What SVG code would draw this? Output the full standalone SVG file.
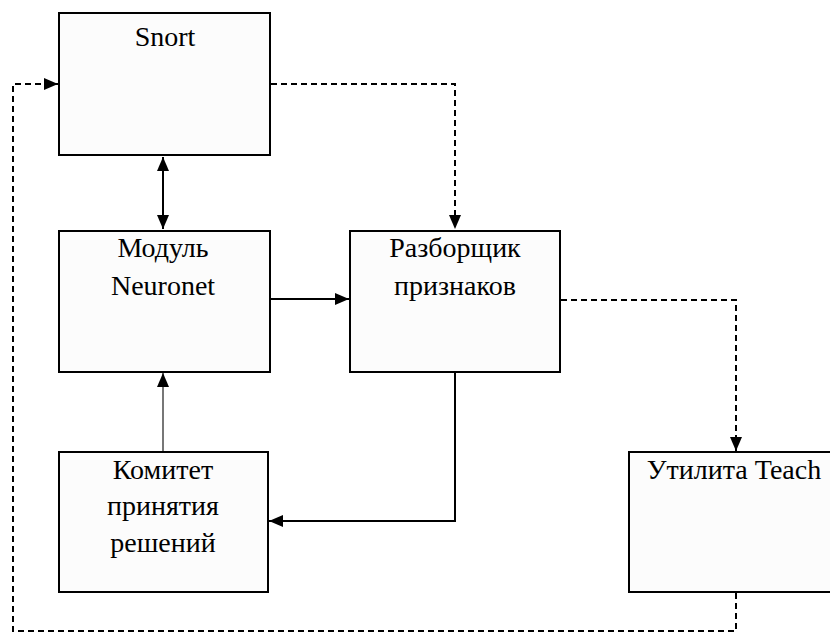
<svg xmlns="http://www.w3.org/2000/svg" width="830" height="633" viewBox="0 0 830 633">
<defs>
<style>
.box{fill:#fcfcfc;stroke:#000;stroke-width:2}
.t{font-family:'Liberation Serif','Times New Roman',serif;font-size:28px;fill:#000;text-anchor:middle}
.c{fill:none;stroke:#000;stroke-width:2}
.d{fill:none;stroke:#000;stroke-width:2;stroke-dasharray:6 4}
</style>
<marker id="ah" viewBox="0 0 14 12" refX="14" refY="6" markerWidth="14" markerHeight="12" markerUnits="userSpaceOnUse" orient="auto-start-reverse">
<path d="M0,0 L14,6 L0,12 Z" fill="#000"/>
</marker>
<marker id="ahg" viewBox="0 0 14 12" refX="14" refY="6" markerWidth="14" markerHeight="12" markerUnits="userSpaceOnUse" orient="auto">
<path d="M0,0 L14,6 L0,12 Z" fill="#000"/>
</marker>
</defs>
<rect width="830" height="633" fill="#fff"/>
<g id="connectors">
<line class="c" x1="163" y1="157" x2="163" y2="229" marker-start="url(#ah)" marker-end="url(#ah)"/>
<line class="c" x1="271" y1="299" x2="349" y2="299" marker-end="url(#ah)"/>
<polyline class="d" points="271,84 455,84 455,229" marker-end="url(#ah)"/>
<polyline class="d" points="561,300 736,300 736,451" marker-end="url(#ah)"/>
<polyline class="c" points="455,373 455,521 269,521" marker-end="url(#ah)"/>
<line x1="163" y1="451" x2="163" y2="373" stroke="#777" stroke-width="2" marker-end="url(#ahg)"/>
<polyline class="d" points="736,593 736,631 13,631 13,84 58,84" marker-end="url(#ah)"/>
</g>
<g id="snort">
<rect class="box" x="59" y="13" width="211" height="142"/>
<text class="t" x="165" y="46">Snort</text>
</g>
<g id="neuronet">
<rect class="box" x="59" y="231" width="211" height="141"/>
<text class="t" x="163" y="257">Модуль</text>
<text class="t" x="163" y="295">Neuronet</text>
</g>
<g id="parser">
<rect class="box" x="350" y="231" width="210" height="141"/>
<text class="t" x="455" y="257">Разборщик</text>
<text class="t" x="455" y="295">признаков</text>
</g>
<g id="committee">
<rect class="box" x="59" y="452" width="209" height="140"/>
<text class="t" x="163" y="479">Комитет</text>
<text class="t" x="163" y="515">принятия</text>
<text class="t" x="163" y="552">решений</text>
</g>
<g id="teach">
<rect class="box" x="629" y="452" width="215" height="140"/>
<text class="t" x="734" y="479">Утилита Teach</text>
</g>
</svg>
